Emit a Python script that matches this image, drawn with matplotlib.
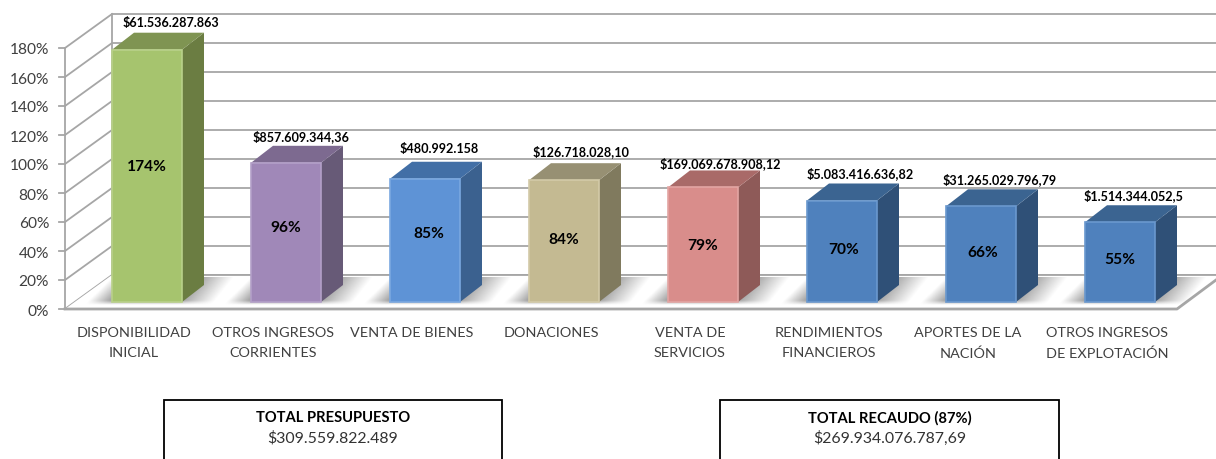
import numpy as np
import matplotlib
matplotlib.use("Agg")
import matplotlib.pyplot as plt
from matplotlib.patches import Polygon, Rectangle

categories = ["DISPONIBILIDAD\nINICIAL", "OTROS INGRESOS\nCORRIENTES", "VENTA DE BIENES", "DONACIONES",
              "VENTA DE\nSERVICIOS", "RENDIMIENTOS\nFINANCIEROS", "APORTES DE LA\nNACIÓN",
              "OTROS INGRESOS\nDE EXPLOTACIÓN"]
percent = [174, 96, 85, 84, 79, 70, 66, 55]
amounts = ["$61.536.287.863", "$857.609.344,36", "$480.992.158", "$126.718.028,10",
           "$169.069.678.908,12", "$5.083.416.636,82", "$31.265.029.796,79", "$1.514.344.052,5"]
y_ticks = [0, 20, 40, 60, 80, 100, 120, 140, 160, 180]
front_colors = ["#A6C46E", "#A088B8", "#5E93D6", "#C4BA92", "#D98D8B", "#4F81BD", "#4F81BD", "#4F81BD"]
side_colors = ["#6B7D42", "#675A77", "#3B618F", "#807A5E", "#8E5A58", "#2F5077", "#2F5077", "#2F5077"]
top_colors = ["#7F9452", "#7D6A90", "#426FA6", "#979073", "#A96A68", "#3B6491", "#3B6491", "#3B6491"]
edge_colors = ["#B9D18A", "#B3A0C8", "#7AA8E0", "#D3CAA8", "#E3A5A3", "#6A98CE", "#6A98CE", "#6A98CE"]
label_dx_px = [24, 15, 14, 17, 17, 18, 19, 13]
label_gap_px = [27, 26, 30, 29, 24, 27, 27, 27]
inner_dx_px = [0, 0, 4, 0, 0, 2, 2, 0]
inner_dy_px = [9, 4, 6, 1, -1, 1, 1, 2]

W, H = 1216, 459
PX_CAT, PX_PCT = 139.0, 1.45
X0_PX, Y0_PX = 147.0, 309.0
BAR_W = 70 / PX_CAT
BASE = 7 / PX_PCT
plt.rcParams["font.family"] = ["Lato", "DejaVu Sans"]

fig = plt.figure(figsize=(W / 100, H / 100), dpi=100)
ax = fig.add_axes([0, 0, 1, 1])
ax.set_xlim(-X0_PX / PX_CAT, (W - X0_PX) / PX_CAT)
ax.set_ylim((Y0_PX - H) / PX_PCT, Y0_PX / PX_PCT)
ax.axis("off")

dxp = lambda p: p / PX_CAT
dyp = lambda p: p / PX_PCT
xleft = dxp(65 - X0_PX)
wall_dx, wall_dy = dxp(47), dyp(34)
xright_floor = dxp(1177 - X0_PX)
xmax = ax.get_xlim()[1]
GRID = "#A6A6A6"

for t in y_ticks:
    ax.plot([xleft + wall_dx, xmax], [t + wall_dy] * 2, color=GRID, lw=1.3, zorder=1, solid_capstyle="butt")
    ax.plot([xleft, xleft + wall_dx], [t, t + wall_dy], color=GRID, lw=1.3, zorder=1)
    ax.plot([xleft - dxp(6), xleft], [t, t], color=GRID, lw=1.3, zorder=1)
    ax.text(xleft - dxp(16), t - dyp(2.5), f"{t}%", ha="right", va="center", fontsize=11.2, color="#404040")
ax.plot([xleft, xleft], [0, 180], color=GRID, lw=1.3, zorder=1)
ax.plot([xleft + wall_dx] * 2, [wall_dy, 180 + wall_dy], color=GRID, lw=1.3, zorder=1)

floor = [(xleft, 0), (xright_floor, 0), (xmax, dyp(29)), (xmax, wall_dy), (xleft + wall_dx, wall_dy)]
ax.add_patch(Polygon(floor, closed=True, fc="white", ec="none", zorder=1.5))
ax.plot([xleft, xright_floor, xmax], [0, 0, dyp(29)], color=GRID, lw=2, zorder=2)
ax.plot([xleft + wall_dx, xmax], [wall_dy, wall_dy], color=GRID, lw=1.3, zorder=1.6)

for i, (v, name) in enumerate(zip(percent, categories)):
    l, r = i - BAR_W / 2, i + BAR_W / 2
    top = v + BASE
    sdx, sdy = dxp(22), dyp(17)
    # soft floor shadow, fading along its slanted ends
    px = np.linspace(-30, 70 + 55, 250)
    tt = np.linspace(0, 1, 54)
    P, T = np.meshgrid(px, tt)
    left_end = -28 + 28 * T
    right_end = 70 + 30 + 22 * T
    alpha = np.clip((P - left_end) / 24, 0, 1) * np.clip((right_end - P) / 36, 0, 1)
    alpha = alpha * np.clip(T / 0.16, 0, 1) * 0.68
    rgba = np.zeros(alpha.shape + (4,))
    rgba[..., :3] = 0.42
    rgba[..., 3] = alpha
    ax.imshow(rgba, origin="lower", extent=[l + dxp(-30), l + dxp(125), dyp(3.5), dyp(31)], aspect="auto",
              zorder=2.2, interpolation="bilinear")
    # bar faces
    ax.add_patch(Polygon([(r, BASE), (r + sdx, BASE + sdy), (r + sdx, top + sdy), (r, top)],
                         closed=True, fc=side_colors[i], ec="none", zorder=3))
    ax.add_patch(Polygon([(l, top), (r, top), (r + sdx, top + sdy), (l + sdx, top + sdy)],
                         closed=True, fc=top_colors[i], ec="none", zorder=3))
    ax.add_patch(Rectangle((l, BASE), BAR_W, v, fc=front_colors[i], ec=edge_colors[i], lw=1.2, zorder=4))
    ax.text(i + dxp(inner_dx_px[i]), v / 2 + BASE + dyp(inner_dy_px[i]), f"{v}%", ha="center", va="center",
            fontsize=11.2, fontweight="bold", color="black", zorder=6)
    ax.text(i + dxp(label_dx_px[i]), top + dyp(label_gap_px[i]), amounts[i], ha="center", va="center",
            fontsize=9.05, fontweight="bold", color="black", zorder=6)
    ax.text(i - dxp(13), dyp(-18), name, ha="center", va="top", fontsize=10.4, color="#404040",
            linespacing=1.8, zorder=6)

boxes = [(164, 502, "TOTAL PRESUPUESTO", "$309.559.822.489"), (720, 1059, "TOTAL RECAUDO (87%)", "$269.934.076.787,69")]
for x0, x1, title, amount in boxes:
    lo, hi = dxp(x0 - X0_PX), dxp(x1 - X0_PX)
    ax.add_patch(Rectangle((lo, dyp(Y0_PX - 470)), hi - lo, dyp(70), fc="white", ec="black", lw=1.3, zorder=5))
    ax.text((lo + hi) / 2, dyp(Y0_PX - 418), title, ha="center", va="center", fontsize=10.6,
            fontweight="bold", color="black", zorder=6)
    ax.text((lo + hi) / 2, dyp(Y0_PX - 438), amount, ha="center", va="center", fontsize=11.4,
            color="#333333", zorder=6)

ax.set_xlim(-X0_PX / PX_CAT, (W - X0_PX) / PX_CAT)
ax.set_ylim((Y0_PX - H) / PX_PCT, Y0_PX / PX_PCT)
fig.savefig("out.png", dpi=100, facecolor="white")
